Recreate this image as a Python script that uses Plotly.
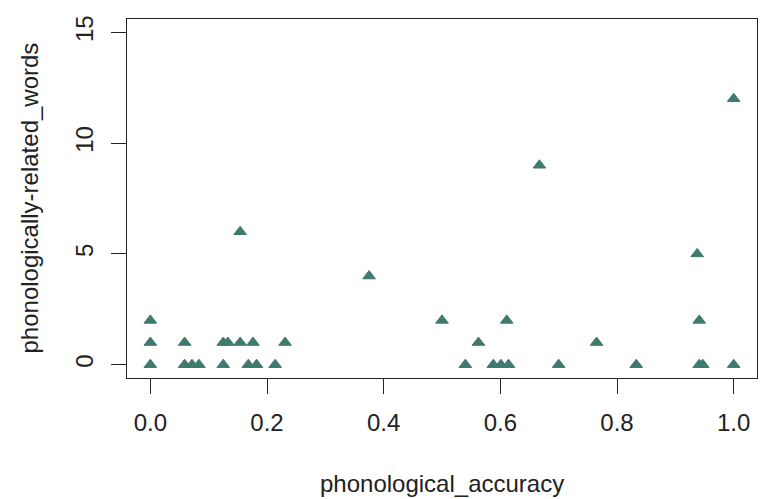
import plotly.graph_objects as go

# Data
phonological_accuracy = [
    0.0, 0.0588, 0.0714, 0.0833, 0.125, 0.168, 0.182, 0.214,
    0.54, 0.588, 0.601, 0.614, 0.70, 0.833, 0.941, 0.947, 1.0,
    0.0, 0.0588, 0.125, 0.133, 0.154, 0.176, 0.231, 0.5625, 0.765,
    0.0, 0.5, 0.611, 0.941,
    0.375,
    0.9375,
    0.154,
    0.667,
    1.0,
]
phonologically_related_words = [
    0, 0, 0, 0, 0, 0, 0, 0,
    0, 0, 0, 0, 0, 0, 0, 0, 0,
    1, 1, 1, 1, 1, 1, 1, 1, 1,
    2, 2, 2, 2,
    4,
    5,
    6,
    9,
    12,
]
x_ticks = [0.0, 0.2, 0.4, 0.6, 0.8, 1.0]
x_tick_labels = ["0.0", "0.2", "0.4", "0.6", "0.8", "1.0"]
y_ticks = [0, 5, 10, 15]
y_tick_labels = ["0", "5", "10", "15"]

FONT = "Liberation Sans, Arial, Helvetica, sans-serif"
TXT = "#222222"
MARK = "#3e7a6d"

fig = go.Figure()
fig.add_trace(go.Scatter(
    x=phonological_accuracy,
    y=phonologically_related_words,
    mode="markers",
    marker=dict(symbol="triangle-up", size=11, color=MARK,
                line=dict(color=MARK, width=1)),
    showlegend=False,
))

axis_common = dict(
    showgrid=False, zeroline=False,
    showline=True, linecolor="#222222", linewidth=1, mirror=True,
    ticks="outside", ticklen=15, tickwidth=1, tickcolor="#222222",
    tickfont=dict(family=FONT, size=24, color=TXT),
)

fig.update_xaxes(range=[-0.04, 1.04], tickvals=x_ticks, ticktext=x_tick_labels,
                 ticklabelstandoff=8, **axis_common)
fig.update_yaxes(range=[-0.6, 15.6], tickvals=y_ticks, ticktext=y_tick_labels,
                 tickangle=-90, ticklabelstandoff=8, **axis_common)

fig.add_annotation(text="phonological_accuracy", xref="paper", yref="paper",
                   x=0.5, y=0, xanchor="center", yanchor="middle",
                   yshift=-105, showarrow=False,
                   font=dict(family=FONT, size=24, color=TXT))
fig.add_annotation(text="phonologically-related_words", xref="paper", yref="paper",
                   x=0, y=0.5, xanchor="center", yanchor="middle",
                   xshift=-98, textangle=-90, showarrow=False,
                   font=dict(family=FONT, size=24, color=TXT))

fig.update_layout(
    width=760, height=499,
    margin=dict(l=127, r=3, t=19, b=121),
    plot_bgcolor="white", paper_bgcolor="white",
)

fig.write_html(
    "out.html",
    config={"displayModeBar": False},
    post_script="document.body.style.margin='0px';document.body.style.overflow='hidden';",
)
